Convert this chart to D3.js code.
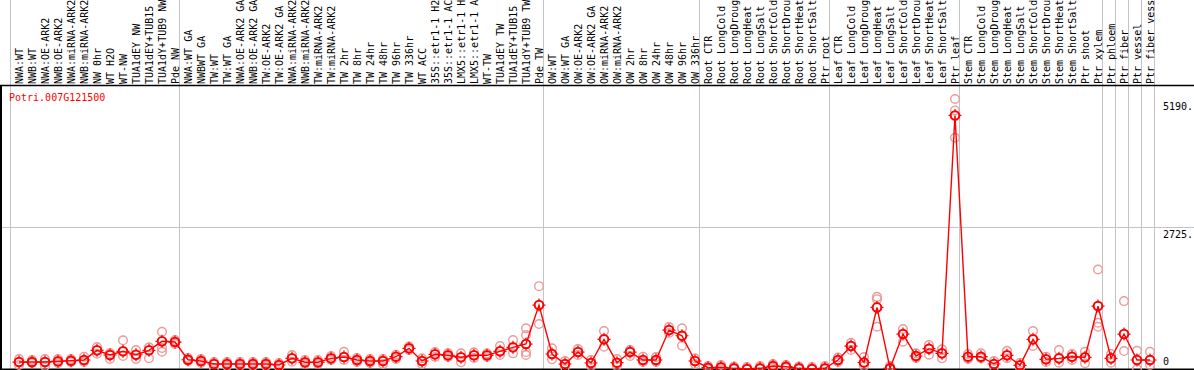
<!DOCTYPE html>
<html>
<head>
<meta charset="utf-8">
<script src="https://cdn.jsdelivr.net/npm/d3@7"></script>
<style>
  html, body { margin: 0; padding: 0; background: #fff; }
  svg { display: block; font-family: "DejaVu Sans Mono", monospace; }
</style>
</head>
<body>
<div id="container"></div>
<script>
const width = 1194, height = 370;

// --- Data ---
const geneId = "Potri.007G121500";

const samples = [
  "NWA:WT", "NWB:WT", "NWA:OE-ARK2", "NWB:OE-ARK2", "NWA:miRNA-ARK2", "NWB:miRNA-ARK2",
  "NW 0hr", "WT H2O", "WT-NW", "TUA1dEY NW", "TUA1dEY+TUB15", "TUA1dY+TUB9 NW", "Pde NW",
  "NWA:WT GA", "NWBWT GA", "TW:WT", "TW:WT GA", "NWA:OE-ARK2 GA", "NWB:OE-ARK2 GA",
  "TW:OE-ARK2", "TW:OE-ARK2 GA", "NWA:miRNA-ARK2", "NWB:miRNA-ARK2", "TW:miRNA-ARK2",
  "TW:miRNA-ARK2", "TW 2hr", "TW 8hr", "TW 24hr", "TW 48hr", "TW 96hr", "TW 336hr",
  "WT ACC", "35S::etr1-1 H2O", "35S::etr1-1 ACC", "LMX5::etr1-1 H2O", "LMX5::etr1-1 ACC",
  "WT-TW", "TUA1dEY TW", "TUA1dEY+TUB15", "TUA1dY+TUB9 TW", "Pde TW",
  "OW:WT", "OW:WT GA", "OW:OE-ARK2", "OW:OE-ARK2 GA", "OW:miRNA-ARK2", "OW:miRNA-ARK2",
  "OW 2hr", "OW 8hr", "OW 24hr", "OW 48hr", "OW 96hr", "OW 336hr",
  "Root CTR", "Root LongCold", "Root LongDrought", "Root LongHeat", "Root LongSalt",
  "Root ShortCold", "Root ShortDrought", "Root ShortHeat", "Root ShortSalt", "Ptr root",
  "Leaf CTR", "Leaf LongCold", "Leaf LongDrought", "Leaf LongHeat", "Leaf LongSalt",
  "Leaf ShortCold", "Leaf ShortDrought", "Leaf ShortHeat", "Leaf ShortSalt", "Ptr leaf",
  "Stem CTR", "Stem LongCold", "Stem LongDrought", "Stem LongHeat", "Stem LongSalt",
  "Stem ShortCold", "Stem ShortDrought", "Stem ShortHeat", "Stem ShortSalt", "Ptr shoot",
  "Ptr xylem", "Ptr phloem", "Ptr fiber", "Ptr vessel", "Ptr fiber vessel"
];

// mean expression per sample
const means = [
  134, 134, 134, 148, 159, 173, 359, 269, 340, 274, 359, 532, 518,
  178, 154, 96, 96, 96, 96, 96, 77, 205, 129, 129, 205, 230, 173, 154, 154, 236, 397,
  154, 282, 263, 225, 263, 263, 340, 416, 480, 1228,
  288, 96, 326, 115, 570, 121, 326, 173, 173, 748, 639, 154,
  25, 33, 13, 0, 13, 58, 44, 13, 0, 13,
  173, 441, 125, 1184, 13, 672, 250, 390, 301, 4874,
  236, 236, 96, 263, 71, 570, 186, 205, 236, 225,
  1209, 205, 672, 173, 173
];

// replicate values per sample
const replicates = [
  [192, 77], [173, 115], [192, 58], [192, 115], [192, 134], [236, 134],
  [422, 294], [192, 307], [551, 250], [365, 192], [416, 205], [716, 403, 332], [557, 480],
  [211, 154], [192, 115], [134, 19], [134, 58], [134, 58], [134, 58], [134, 58], [115, 38],
  [269, 140], [173, 96], [173, 96], [250, 173], [332, 173], [211, 134], [192, 115],
  [192, 96], [274, 192], [432, 365],
  [205, 96], [326, 230], [307, 230], [301, 129], [320, 211], [301, 230], [441, 269],
  [557, 301], [781, 652, 326, 269], [1593, 864],
  [397, 186], [154, 38], [384, 269], [173, 58], [729, 428], [192, 58], [365, 250],
  [236, 134], [230, 134], [806, 691], [781, 447], [205, 96],
  [58, 0], [77, 0], [48, 0], [38, 0], [58, 0], [96, 19], [77, 19], [48, 0], [38, 0], [58, 0],
  [221, 134], [505, 365], [230, 58], [1387, 1343, 812], [58, 0], [768, 524], [301, 211],
  [461, 274], [378, 205], [5190, 4970, 4446],
  [288, 192], [301, 205], [154, 38], [351, 205], [121, 25], [729, 441], [236, 134],
  [365, 121], [288, 173], [332, 109],
  [1913, 888, 812], [288, 121], [1305, 345], [351, 0], [332, 77]
];

// samples that start a new group (gray separator drawn before them)
const groupStarts = [0, 13, 41, 53, 63, 73, 84, 85, 86, 87, 88];

const yMax = 5450;
const yGridValues = [2725];
const yLabels = [
  { value: 5190, text: "5190." },
  { value: 2725, text: "2725." },
  { value: 0, text: "0" }
];

// --- Scales ---
const plotTop = 85.5, plotBottom = 369;
const x = d3.scaleBand()
  .domain(d3.range(samples.length + 1))
  .range([10.5, 10.5 + 13 * (samples.length + 1)])
  .paddingInner(0).paddingOuter(0);
const px = (i) => x(i) + 8.5;
const y = d3.scaleLinear().domain([0, yMax]).range([plotBottom, plotTop]);

const svg = d3.select("#container").append("svg")
  .attr("width", width).attr("height", height);

// --- Grid / separators ---
svg.selectAll(".sep").data(groupStarts).join("line")
  .attr("x1", (d) => x(d)).attr("x2", (d) => x(d))
  .attr("y1", 0).attr("y2", plotBottom)
  .attr("stroke", "#c4c4c4").attr("stroke-width", 1);

svg.selectAll(".hgrid").data(yGridValues).join("line")
  .attr("x1", 0).attr("x2", width)
  .attr("y1", (d) => Math.round(y(d)) + 0.5).attr("y2", (d) => Math.round(y(d)) + 0.5)
  .attr("stroke", "#c4c4c4").attr("stroke-width", 1);

// --- Frame ---
svg.append("line").attr("x1", 0).attr("x2", width).attr("y1", plotTop).attr("y2", plotTop)
  .attr("stroke", "#000").attr("stroke-width", 1.5);
svg.append("line").attr("x1", 0).attr("x2", width).attr("y1", plotBottom + 0.5).attr("y2", plotBottom + 0.5)
  .attr("stroke", "#000").attr("stroke-width", 2);
svg.append("line").attr("x1", 1).attr("x2", 1).attr("y1", plotTop).attr("y2", height)
  .attr("stroke", "#000").attr("stroke-width", 2);

// --- Sample labels (rotated) ---
svg.selectAll(".lab").data(samples).join("text")
  .attr("transform", (d, i) => `translate(${px(i) + 4},84) rotate(-90)`)
  .attr("fill", "#000")
  .style("font-size", "10px")
  .text((d) => d);

// --- Gene id ---
svg.append("text")
  .attr("x", 9).attr("y", 101)
  .attr("fill", "#f00")
  .style("font-size", "10px")
  .text(geneId);

// --- Right value labels ---
svg.selectAll(".ylab").data(yLabels).join("text")
  .attr("x", 1163)
  .attr("y", (d) => Math.min(y(d.value) + 10.5, 365))
  .attr("fill", "#000")
  .style("font-size", "10px")
  .text((d) => d.text);

// --- Replicates ---
const repPts = replicates.flatMap((arr, i) => arr.map((v) => ({ i, v })));
svg.selectAll(".rep").data(repPts).join("circle")
  .attr("cx", (d) => px(d.i))
  .attr("cy", (d) => y(d.v))
  .attr("r", 4.3)
  .attr("fill", "none")
  .attr("stroke", "#eb9a9a")
  .attr("stroke-width", 1.4);

// --- Mean line ---
svg.append("path")
  .datum(means)
  .attr("fill", "none")
  .attr("stroke", "#f00")
  .attr("stroke-width", 1.4)
  .attr("d", d3.line().x((d, i) => px(i)).y((d) => y(d)));

// --- Mean markers ---
const mg = svg.selectAll(".mean").data(means).join("g")
  .attr("transform", (d, i) => `translate(${px(i)},${y(d)})`);
mg.append("circle")
  .attr("r", 4.3)
  .attr("fill", "none")
  .attr("stroke", "#f00")
  .attr("stroke-width", 2);
mg.append("path")
  .attr("d", "M0,-6.5V-4.5M0,4.5V6.5M-6.5,0H-4.5M4.5,0H6.5")
  .attr("stroke", "#f00")
  .attr("stroke-width", 1.2);
</script>
</body>
</html>
